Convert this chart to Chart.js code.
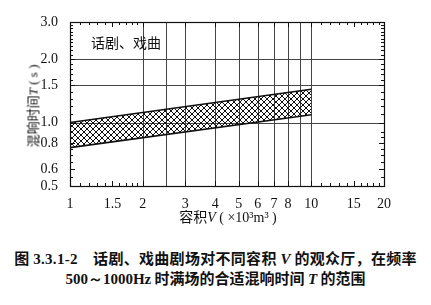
<!DOCTYPE html>
<html>
<head>
<meta charset="utf-8">
<script src="https://cdn.jsdelivr.net/npm/chart.js@4/dist/chart.umd.min.js"></script>
<style>
  html, body { margin: 0; padding: 0; background: #fff; }
  .wrap { position: relative; width: 431px; height: 305px; overflow: hidden; }
  .box { position: absolute; left: 0; top: 0; width: 431px; height: 240px; }
  .cn { font-family: "Noto Sans CJK SC", sans-serif; color: #111; position: absolute; white-space: nowrap; }
  .serif { font-family: "Liberation Serif", "DejaVu Serif", serif; }
  #label { left: 91px; top: 32px; font-size: 14px; }
  #ytitle { left: 32px; top: 106px; font-size: 13px; transform: translate(-50%, -50%) rotate(-90deg); }
  #xtitle { left: 228px; top: 206px; font-size: 14px; transform: translateX(-50%); }
  .cap { left: 0; width: 431px; text-align: center; font-size: 15px; font-weight: bold; }
  #cap1 { top: 247px; letter-spacing: 0.3px; }
  #cap2 { top: 267px; }
</style>
</head>
<body>
<div class="wrap">
  <div class="box"><canvas id="chart"></canvas></div>
  <div class="cn" id="label">话剧、戏曲</div>
  <div class="cn" id="ytitle">混响时间<i class="serif">T</i><span class="serif"> ( s )</span></div>
  <div class="cn" id="xtitle">容积<i class="serif">V</i><span class="serif"> ( ×10³m³ )</span></div>
  <div class="cn cap" id="cap1">图 <span class="serif">3.3.1-2</span>　话剧、戏曲剧场对不同容积 <i class="serif">V</i> 的观众厅，在频率</div>
  <div class="cn cap" id="cap2"><span class="serif">500～1000Hz</span> 时满场的合适混响时间 <i class="serif">T</i> 的范围</div>
</div>
<script>
// volume (x 10^3 m3) and reverberation time range
const volumes = [1, 10];
const upperT = [1.0, 1.44];
const lowerT = [0.76, 1.09];

const xTicks = [1, 1.5, 2, 3, 4, 5, 6, 7, 8, 10, 15, 20];
const yTicks = [0.5, 0.6, 0.8, 1.0, 1.5, 2.0, 3.0];
const xGrid = [2, 2.5, 3, 4, 5, 6, 7, 8, 9, 10];
const yGrid = [1.0, 1.5, 2.0];
const xMinor = [1.1, 1.2, 1.3, 1.4, 1.6, 1.7, 1.8, 1.9, 11, 12, 13, 14, 16, 17, 18, 19];
const yMinor = [0.55, 0.65, 0.7, 0.75, 0.85, 0.9, 1.1, 1.2, 1.3, 1.4, 1.6, 1.7, 1.8, 1.9,
  2.1, 2.2, 2.3, 2.4, 2.5, 2.6, 2.7, 2.8, 2.9];

// cross hatch pattern for the band
function hatch() {
  const c = document.createElement('canvas');
  c.width = 6; c.height = 6;
  const g = c.getContext('2d');
  g.strokeStyle = '#111';
  g.lineWidth = 1;
  g.beginPath();
  g.moveTo(0, 0); g.lineTo(6, 6);
  g.moveTo(6, 0); g.lineTo(0, 6);
  g.moveTo(-1, 5); g.lineTo(1, 7);
  g.moveTo(5, -1); g.lineTo(7, 1);
  g.stroke();
  return g.createPattern(c, 'repeat');
}

const frame = {
  id: 'frame',
  beforeDatasetsDraw(chart) {
    const { ctx, chartArea: a, scales: { x, y } } = chart;
    ctx.save();
    ctx.strokeStyle = '#444';
    ctx.lineWidth = 1;
    ctx.beginPath();
    xGrid.forEach(v => {
      const px = Math.round(x.getPixelForValue(v)) + 0.5;
      ctx.moveTo(px, a.top); ctx.lineTo(px, a.bottom);
    });
    yGrid.forEach(v => {
      const py = Math.round(y.getPixelForValue(v)) + 0.5;
      ctx.moveTo(a.left, py); ctx.lineTo(a.right, py);
    });
    ctx.stroke();
    ctx.restore();
  },
  afterDatasetsDraw(chart) {
    const { ctx, chartArea: a, scales: { x, y } } = chart;
    ctx.save();
    ctx.strokeStyle = '#111';
    ctx.lineWidth = 1.2;
    ctx.strokeRect(a.left + 0.5, a.top + 0.5, a.right - a.left, a.bottom - a.top);
    ctx.lineWidth = 1;
    ctx.beginPath();
    const tx = (v, len) => {
      const px = Math.round(x.getPixelForValue(v)) + 0.5;
      ctx.moveTo(px, a.bottom); ctx.lineTo(px, a.bottom - len);
      ctx.moveTo(px, a.top); ctx.lineTo(px, a.top + len);
    };
    const ty = (v, len) => {
      const py = Math.round(y.getPixelForValue(v)) + 0.5;
      ctx.moveTo(a.left, py); ctx.lineTo(a.left + len, py);
      ctx.moveTo(a.right, py); ctx.lineTo(a.right - len, py);
    };
    xTicks.forEach(v => tx(v, 5));
    xMinor.forEach(v => tx(v, 3));
    yTicks.forEach(v => ty(v, 5));
    yMinor.forEach(v => ty(v, 3));
    ctx.stroke();
    ctx.restore();
  }
};

new Chart(document.getElementById('chart'), {
  type: 'line',
  data: {
    datasets: [
      {
        data: volumes.map((v, i) => ({ x: v, y: upperT[i] })),
        borderColor: '#111', borderWidth: 1.6, pointRadius: 0,
        backgroundColor: hatch(), fill: '+1'
      },
      {
        data: volumes.map((v, i) => ({ x: v, y: lowerT[i] })),
        borderColor: '#111', borderWidth: 1.6, pointRadius: 0, fill: false
      }
    ]
  },
  options: {
    responsive: true,
    maintainAspectRatio: false,
    animation: false,
    layout: { padding: { left: 0, top: 22, right: 47, bottom: 0 } },
    plugins: { legend: { display: false }, tooltip: { enabled: false } },
    scales: {
      x: {
        type: 'logarithmic', min: 1, max: 20,
        afterBuildTicks: s => { s.ticks = xTicks.map(v => ({ value: v })); },
        afterFit: s => { s.height = 54; },
        grid: { display: false },
        border: { display: false },
        ticks: {
          autoSkip: false, maxRotation: 0, padding: 2, color: '#111',
          font: { family: 'Liberation Serif', size: 14 },
          callback: v => String(v)
        }
      },
      y: {
        type: 'logarithmic', min: 0.5, max: 3.0,
        afterBuildTicks: s => { s.ticks = yTicks.map(v => ({ value: v })); },
        afterFit: s => { s.width = 70; },
        grid: { display: false },
        border: { display: false },
        ticks: {
          autoSkip: false, padding: 4, color: '#111',
          font: { family: 'Liberation Serif', size: 14 },
          callback: v => Number(v).toFixed(1)
        }
      }
    }
  },
  plugins: [frame]
});
</script>
</body>
</html>
